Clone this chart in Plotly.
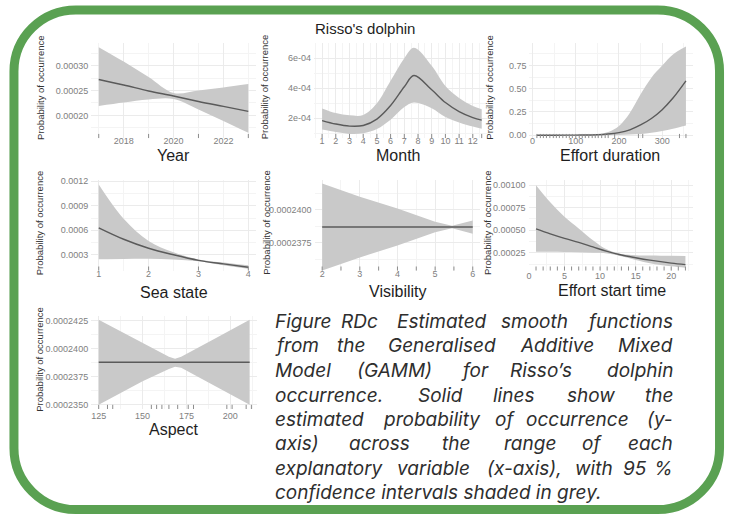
import plotly.graph_objects as go

W, H = 729, 517

# ---------------- smooth terms: fitted probability with 95% CI ----------------
year_x   = [2017, 2018, 2019, 2020, 2021, 2022, 2023]
year_fit = [0.000272, 0.000261, 0.000249, 0.000239, 0.000228, 0.000218, 0.000208]
year_lo  = [0.000219, 0.000226, 0.000232, 0.000233, 0.000212, 0.000189, 0.000165]
year_hi  = [0.000337, 0.000308, 0.000277, 0.000245, 0.000250, 0.000256, 0.000263]
year_rug = [2017, 2019, 2021, 2023]

month_x   = [1, 2, 3, 4, 5, 6, 7, 7.7, 9, 10, 11, 12, 12.65]
month_fit = [1.85e-4, 1.62e-4, 1.48e-4, 1.52e-4, 1.95e-4, 2.85e-4, 4.10e-4, 4.85e-4, 3.90e-4, 3.05e-4, 2.45e-4, 2.05e-4, 1.88e-4]
month_lo  = [1.25e-4, 1.08e-4, 0.96e-4, 1.00e-4, 1.28e-4, 1.90e-4, 2.75e-4, 3.05e-4, 2.67e-4, 2.08e-4, 1.72e-4, 1.45e-4, 1.30e-4]
month_hi  = [2.66e-4, 2.35e-4, 2.20e-4, 2.22e-4, 3.00e-4, 4.50e-4, 6.00e-4, 6.70e-4, 5.50e-4, 4.15e-4, 3.35e-4, 2.82e-4, 2.60e-4]
month_rug = [1, 2, 3, 4, 5, 6, 7, 8, 9, 10, 11, 12, 12.65]

dur_x   = [10, 50, 100, 150, 175, 200, 225, 250, 275, 300, 325, 355]
dur_fit = [0.0, 0.0, 0.001, 0.004, 0.012, 0.028, 0.058, 0.11, 0.18, 0.275, 0.40, 0.585]
dur_lo  = [0.0, 0.0, 0.0, 0.0, 0.001, 0.003, 0.006, 0.012, 0.025, 0.045, 0.07, 0.105]
dur_hi  = [0.0, 0.0, 0.002, 0.01, 0.035, 0.10, 0.24, 0.44, 0.62, 0.75, 0.87, 0.955]
dur_rug = [10, 18, 25, 32, 40, 48, 55, 62, 70, 78, 85, 92, 100, 108, 115, 122, 130,
           138, 145, 152, 160, 168, 175, 190, 245, 255, 340, 355]

sea_x   = [1, 1.5, 2, 2.5, 3, 3.5, 4]
sea_fit = [0.00063, 0.00049, 0.00038, 0.00030, 0.000232, 0.000188, 0.000148]
sea_lo  = [0.000245, 0.000248, 0.00025, 0.000243, 0.000222, 0.000172, 0.00013]
sea_hi  = [0.00116, 0.00074, 0.00047, 0.00033, 0.000243, 0.000205, 0.000172]
sea_rug = [1, 2, 3, 4]

vis_x   = [2, 3, 4, 5, 5.45, 6]
vis_fit = [0.0002387, 0.0002387, 0.0002387, 0.0002387, 0.0002387, 0.0002387]
vis_lo  = [0.0002354, 0.0002364, 0.0002373, 0.0002383, 0.0002386, 0.0002382]
vis_hi  = [0.0002420, 0.0002410, 0.0002401, 0.0002391, 0.0002388, 0.0002392]
vis_rug = [2, 2.5, 3, 3.5, 4, 4.5, 5, 5.5, 6]

start_x   = [1, 3, 5, 7, 9, 11, 13, 15, 17, 20, 22]
start_fit = [0.000515, 0.00046, 0.00041, 0.000365, 0.000315, 0.000265, 0.000225, 0.000195, 0.000168, 0.000135, 0.000118]
start_lo  = [0.00026, 0.00026, 0.000258, 0.000256, 0.00025, 0.000243, 0.000212, 0.00017, 0.000135, 0.0001, 0.000083]
start_hi  = [0.001, 0.00081, 0.00065, 0.00052, 0.00039, 0.000285, 0.000237, 0.000223, 0.000219, 0.000216, 0.000215]
start_rug = list(range(1, 23))

asp_x   = [125, 150, 165, 168.5, 172, 190, 211]
asp_fit = [0.0002388, 0.0002388, 0.0002388, 0.0002388, 0.0002388, 0.0002388, 0.0002388]
asp_lo  = [0.0002350, 0.0002371, 0.0002382, 0.0002384, 0.0002383, 0.0002368, 0.0002350]
asp_hi  = [0.0002426, 0.0002405, 0.0002393, 0.0002391, 0.0002393, 0.0002408, 0.0002426]
asp_rug = [125, 130, 133, 155, 158, 161, 165, 170, 176, 179, 198, 201, 209, 212]

PLOT_TITLE = "Risso's dolphin"
Y_TITLE = "Probability of occurrence"

CAPTION = [
    ["Figure", "RDc", "Estimated", "smooth", "functions"],
    ["from", "the", "Generalised", "Additive", "Mixed"],
    ["Model", "(GAMM)", "for", "Risso\u2019s", "dolphin"],
    ["occurrence.", "Solid", "lines", "show", "the"],
    ["estimated", "probability", "of", "occurrence", "(y-"],
    ["axis)", "across", "the", "range", "of", "each"],
    ["explanatory", "variable", "(x-axis),", "with", "95", "%"],
    ["confidence intervals shaded in grey."],
]

# ---------------- panel layout (pixel boxes -> paper domains) ----------------
panels = [
    dict(x=year_x, fit=year_fit, lo=year_lo, hi=year_hi, rug=year_rug, shape="spline",
         box=(89.5, 254.5, 39, 136), xr=[2016.7, 2023.3], yr=[0.0001538, 0.0003462],
         xt=[2018, 2020, 2022], xm=[2017, 2019, 2021, 2023],
         yt=[0.0002, 0.00025, 0.0003], ytt=["0.00020", "0.00025", "0.00030"],
         ym=[0.000175, 0.000225, 0.000275, 0.000325],
         xtitle="Year", xtp=(172, 153), ytp=(38, 84), lab=-4),
    dict(x=month_x, fit=month_fit, lo=month_lo, hi=month_hi, rug=month_rug, shape="spline",
         box=(313.0, 489.0, 39, 136), xr=[0.42, 13.23], yr=[0.66e-4, 7.05e-4],
         xt=list(range(1, 13)), xm=[m + 0.5 for m in range(0, 13)],
         yt=[2e-4, 4e-4, 6e-4], ytt=["2e-04", "4e-04", "6e-04"], ym=[1e-4, 3e-4, 5e-4, 7e-4],
         xtitle="Month", xtp=(397, 153), ytp=(263, 84), lab=-4),
    dict(x=dur_x, fit=dur_fit, lo=dur_lo, hi=dur_hi, rug=dur_rug, shape="spline",
         box=(528.9, 693.3, 39, 136), xr=[-7.25, 372.25], yr=[-0.035, 0.998],
         xt=[0, 100, 200, 300], xm=[50, 150, 250, 350],
         yt=[0, 0.25, 0.5, 0.75], ytt=["0.00", "0.25", "0.50", "0.75"], ym=[0.125, 0.375, 0.625, 0.875],
         xtitle="Effort duration", xtp=(610, 153), ytp=(488, 84), lab=-4),
    dict(x=sea_x, fit=sea_fit, lo=sea_lo, hi=sea_hi, rug=sea_rug, shape="spline",
         box=(89.5, 254.5, 178, 270), xr=[0.85, 4.15], yr=[0.000103, 0.001216],
         xt=[1, 2, 3, 4], xm=[1.5, 2.5, 3.5],
         yt=[0.0003, 0.0006, 0.0009, 0.0012], ytt=["0.0003", "0.0006", "0.0009", "0.0012"],
         ym=[0.00045, 0.00075, 0.00105],
         xtitle="Sea state", xtp=(172, 292), ytp=(38, 221), lab=-4),
    dict(x=vis_x, fit=vis_fit, lo=vis_lo, hi=vis_hi, rug=vis_rug, shape="linear",
         box=(313.5, 479.6, 178, 270), xr=[1.8, 6.2], yr=[0.00023538, 0.00024227],
         xt=[2, 3, 4, 5, 6], xm=[2.5, 3.5, 4.5, 5.5],
         yt=[0.0002375, 0.00024], ytt=["0.0002375", "0.0002400"],
         ym=[0.00023625, 0.00023875, 0.00024125],
         xtitle="Visibility", xtp=(397, 291), ytp=(265, 221), lab=-4),
    dict(x=start_x, fit=start_fit, lo=start_lo, hi=start_hi, rug=start_rug, shape="spline",
         box=(528.0, 692.8, 178, 270), xr=[-0.05, 23.05], yr=[0.0000493, 0.001058],
         xt=[0, 5, 10, 15, 20], xm=[2.5, 7.5, 12.5, 17.5, 22.5],
         yt=[0.00025, 0.0005, 0.00075, 0.001], ytt=["0.00025", "0.00050", "0.00075", "0.00100"],
         ym=[0.000125, 0.000375, 0.000625, 0.000875],
         xtitle="Effort start time", xtp=(612, 290), ytp=(487, 221), lab=-2),
    dict(x=asp_x, fit=asp_fit, lo=asp_lo, hi=asp_hi, rug=asp_rug, shape="linear",
         box=(89.4, 255.9, 316, 410), xr=[120.7, 215.3], yr=[0.0002346, 0.0002429],
         xt=[125, 150, 175, 200], xm=[137.5, 162.5, 187.5, 212.5],
         yt=[0.000235, 0.0002375, 0.00024, 0.0002425],
         ytt=["0.0002350", "0.0002375", "0.0002400", "0.0002425"],
         ym=[0.00023625, 0.00023875, 0.00024125],
         xtitle="Aspect", xtp=(172, 430), ytp=(38, 359), lab=0),
]

FONT = "Liberation Sans, Arial, sans-serif"
RIBBON = "#c9c9c9"
LINE = "#5a5a5a"
GRID = "#ebebeb"
GRID_MINOR = "#f4f4f4"
TICK_COLOR = "#808080"
RUG_COLOR = "#8c8c8c"
GREEN = "#5aa152"


def px(x):
    return x / W


def py(y):
    return 1 - y / H


fig = go.Figure()
layout = dict(
    width=W, height=H, autosize=False,
    margin=dict(l=0, r=0, t=0, b=0),
    paper_bgcolor="white", plot_bgcolor="white",
    showlegend=False,
)
annotations = []

for i, p in enumerate(panels, start=1):
    sx = "" if i == 1 else str(i)
    xa, ya = "x" + sx, "y" + sx
    x0, x1, y0, y1 = p["box"]

    # confidence band (lower edge, then upper filled to it)
    fig.add_trace(go.Scatter(x=p["x"], y=p["lo"], mode="lines",
                             line=dict(width=0, shape=p["shape"], color=RIBBON),
                             xaxis=xa, yaxis=ya, hoverinfo="skip"))
    fig.add_trace(go.Scatter(x=p["x"], y=p["hi"], mode="lines", fill="tonexty",
                             fillcolor=RIBBON,
                             line=dict(width=0, shape=p["shape"], color=RIBBON),
                             xaxis=xa, yaxis=ya, hoverinfo="skip"))
    # fitted smooth
    fig.add_trace(go.Scatter(x=p["x"], y=p["fit"], mode="lines",
                             line=dict(width=1.4, shape=p["shape"], color=LINE),
                             xaxis=xa, yaxis=ya))
    # rug of observed covariate values along the bottom of the panel
    ylo, yhi = p["yr"]
    rug_y = ylo + 0.025 * (yhi - ylo)
    fig.add_trace(go.Scatter(x=p["rug"], y=[rug_y] * len(p["rug"]), mode="markers",
                             marker=dict(symbol="line-ns", size=3,
                                         line=dict(width=1, color=RUG_COLOR)),
                             xaxis=xa, yaxis=ya, hoverinfo="skip"))

    layout["xaxis" + sx] = dict(
        domain=[px(x0), px(x1)], range=p["xr"], anchor=ya,
        tickmode="array", tickvals=p["xt"], ticktext=[str(v) for v in p["xt"]],
        showgrid=True, gridcolor=GRID, gridwidth=1,
        minor=dict(tickmode="array", tickvals=p["xm"], showgrid=True,
                   gridcolor=GRID_MINOR, gridwidth=1),
        zeroline=False, showline=False, ticks="",
        tickfont=dict(family=FONT, size=9, color=TICK_COLOR),
        ticklabelstandoff=p["lab"],
    )
    layout["yaxis" + sx] = dict(
        domain=[py(y1), py(y0)], range=p["yr"], anchor=xa,
        tickmode="array", tickvals=p["yt"], ticktext=p["ytt"],
        showgrid=True, gridcolor=GRID, gridwidth=1,
        minor=dict(tickmode="array", tickvals=p["ym"], showgrid=True,
                   gridcolor=GRID_MINOR, gridwidth=1),
        zeroline=False, showline=False, ticks="",
        tickfont=dict(family=FONT, size=9, color=TICK_COLOR),
        ticklabelstandoff=2,
    )

    tx, ty = p["xtp"]
    annotations.append(dict(text=p["xtitle"], x=px(tx), y=py(ty), xref="paper", yref="paper",
                            showarrow=False, xanchor="center", yanchor="middle",
                            font=dict(family=FONT, size=16, color="#1e1e1e")))
    vx, vy = p["ytp"]
    annotations.append(dict(text=Y_TITLE, x=px(vx), y=py(vy), xref="paper", yref="paper",
                            showarrow=False, textangle=-90, xanchor="center", yanchor="middle",
                            font=dict(family=FONT, size=9.5, color="#333333")))

annotations.append(dict(text=PLOT_TITLE, x=px(364), y=py(25), xref="paper", yref="paper",
                        showarrow=False, xanchor="center", yanchor="middle",
                        font=dict(family=FONT, size=15, color="#1e1e1e")))

# ---------------- justified caption, word by word ----------------
CAP_FONT = dict(family="Inter, Noto Sans, sans-serif", size=19, color="#2e2e2e", style="italic")
cap_left, cap_right = 271.7, 675.0
cap_rows = [321, 346, 371, 396, 420.5, 445, 470, 494.5]
# centres of the inner words of each justified row
cap_inner = [
    [358.3, 441.7, 534.0],
    [350.0, 441.7, 556.7],
    [393.3, 474.0, 540.7],
    [440.0, 513.3, 590.7],
    [430.7, 504.0, 577.3],
    [378.3, 455.0, 529.3, 591.7],
    [432.7, 524.0, 594.0, 635.0],
    [],
]
for words, yrow, inner in zip(CAPTION, cap_rows, cap_inner):
    annotations.append(dict(text=words[0], x=px(cap_left), y=py(yrow), xref="paper", yref="paper",
                            showarrow=False, xanchor="left", yanchor="middle", font=CAP_FONT))
    if len(words) == 1:
        continue
    for w, cx in zip(words[1:-1], inner):
        annotations.append(dict(text=w, x=px(cx), y=py(yrow), xref="paper", yref="paper",
                                showarrow=False, xanchor="center", yanchor="middle", font=CAP_FONT))
    annotations.append(dict(text=words[-1], x=px(cap_right), y=py(yrow), xref="paper", yref="paper",
                            showarrow=False, xanchor="right", yanchor="middle", font=CAP_FONT))

# ---------------- rounded green frame ----------------
L, R, T, B, RAD = 12.0, 719.5, 6.0, 511.5, 62.0
k = 0.5523 * RAD


def P(x, y):
    return f"{px(x):.5f},{py(y):.5f}"


frame = (
    f"M {P(L + RAD, T)} L {P(R - RAD, T)} "
    f"C {P(R - RAD + k, T)} {P(R, T + RAD - k)} {P(R, T + RAD)} "
    f"L {P(R, B - RAD)} "
    f"C {P(R, B - RAD + k)} {P(R - RAD + k, B)} {P(R - RAD, B)} "
    f"L {P(L + RAD, B)} "
    f"C {P(L + RAD - k, B)} {P(L, B - RAD + k)} {P(L, B - RAD)} "
    f"L {P(L, T + RAD)} "
    f"C {P(L, T + RAD - k)} {P(L + RAD - k, T)} {P(L + RAD, T)} Z"
)
layout["shapes"] = [dict(type="path", path=frame, xref="paper", yref="paper",
                         line=dict(color=GREEN, width=9), layer="above")]
layout["annotations"] = annotations

fig.update_layout(**layout)
fig.write_html("out.html")
